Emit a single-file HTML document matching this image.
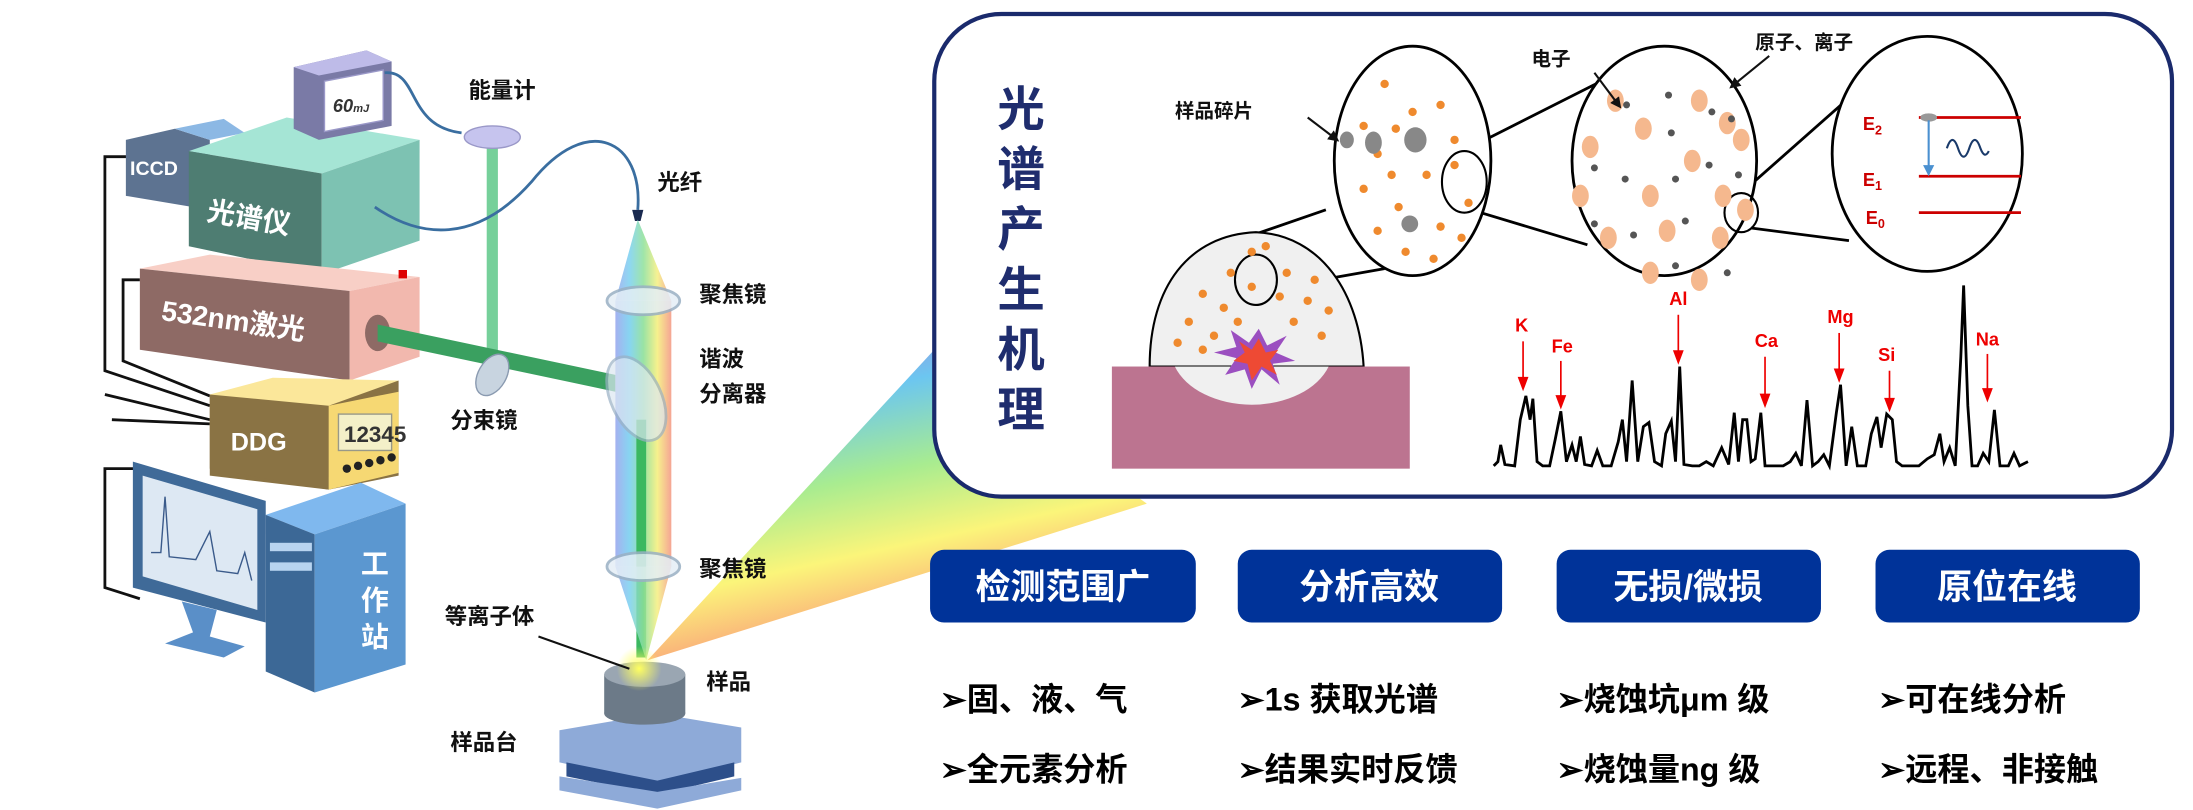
<!DOCTYPE html>
<html><head><meta charset="utf-8"><style>
html,body{margin:0;padding:0;background:#fff;}
svg{display:block}
text{font-family:"Liberation Sans","Noto Sans CJK SC",sans-serif;font-weight:bold}
</style></head><body>
<svg width="2193" height="810" viewBox="0 0 1568 579" preserveAspectRatio="none" xmlns="http://www.w3.org/2000/svg">
<defs>
<linearGradient id="fan" x1="0" y1="0" x2="0.35" y2="1">
<stop offset="0" stop-color="#b07ad8"/><stop offset="0.25" stop-color="#6cc6f0"/><stop offset="0.5" stop-color="#a8ec90"/><stop offset="0.72" stop-color="#fbf57a"/><stop offset="1" stop-color="#fa8a7a"/></linearGradient>
<linearGradient id="rb" x1="0" y1="0" x2="1" y2="0">
<stop offset="0" stop-color="#9aa8ee"/><stop offset="0.25" stop-color="#7ad0f0"/><stop offset="0.5" stop-color="#8ee09a"/><stop offset="0.75" stop-color="#f5ef80"/><stop offset="1" stop-color="#f49a88"/></linearGradient>
<radialGradient id="glow"><stop offset="0" stop-color="#ffff60"/><stop offset="1" stop-color="#ffff60" stop-opacity="0"/></radialGradient>
<marker id="ah" markerWidth="8" markerHeight="8" refX="6" refY="4" orient="auto" markerUnits="userSpaceOnUse"><polygon points="0,0 8,4 0,8" fill="#111"/></marker>
</defs>
<!-- fan -->
<polygon points="463,472 668,250 820,360" fill="url(#fan)"/>
<!-- cables -->
<g fill="none" stroke="#111" stroke-width="2">
<polyline points="92,112 75,112 75,265 150,290"/>
<polyline points="100,200 88,200 88,258 150,283"/>
<polyline points="150,300 75,282"/>
<polyline points="100,335 75,335 75,420 100,428"/>
<polyline points="150,303 80,300"/>
</g>
<!-- ICCD -->
<polygon points="90,100 125,92 150,100 150,150 90,140" fill="#5d7391"/>
<polygon points="125,92 160,85 175,95 150,100" fill="#8cb8e4"/>
<text x="93" y="125" font-size="14" fill="#fff">ICCD</text>
<!-- spectrometer -->
<polygon points="135,108 205,84 300,100 230,124" fill="#a5e5d5"/>
<polygon points="135,108 230,124 230,196 135,176" fill="#4e7d72"/>
<polygon points="230,124 300,100 300,172 230,196" fill="#7dc2b2"/>
<text x="148" y="162" font-size="20" fill="#fff" transform="rotate(10 175 155)">光谱仪</text>
<!-- energy meter -->
<polygon points="210,48 262,36 280,44 280,90 228,100 210,92" fill="#7a7aa6"/>
<polygon points="210,48 262,36 280,44 228,54" fill="#bebbe8"/>
<polygon points="232,58 274,50 274,86 232,94" fill="#fff" stroke="#9a98c8"/>
<text x="238" y="80" font-size="13" font-style="italic" font-weight="normal" fill="#333">60<tspan font-size="8">mJ</tspan></text>
<path d="M275,52 C300,50 290,90 330,95" fill="none" stroke="#3a6ea0" stroke-width="2"/>
<text x="335" y="70" font-size="16" fill="#111">能量计</text>
<!-- green vertical beam -->
<rect x="348" y="102" width="8" height="165" fill="#76d09a"/>
<ellipse cx="352" cy="98" rx="20" ry="8" fill="#c6c4ee" stroke="#9a98c8"/>
<!-- laser -->
<polygon points="100,192 150,182 300,198 250,208" fill="#f8cfc6"/>
<polygon points="100,192 250,208 250,272 100,250" fill="#8e6a65"/>
<polygon points="250,208 300,198 300,255 250,272" fill="#f2b8ae"/>
<rect x="285" y="193" width="6" height="6" fill="#d00"/>
<text x="115" y="235" font-size="20" fill="#fff" transform="rotate(8 160 230)">532nm激光</text>
<ellipse cx="270" cy="238" rx="9" ry="13" fill="#8e6a65"/>
<!-- green horizontal -->
<polygon points="270,232 440,268 440,280 270,244" fill="#3aa060"/>
<ellipse cx="352" cy="268" rx="10" ry="16" fill="#c8d4e0" stroke="#8a9ab0" transform="rotate(30 352 268)"/>
<text x="322" y="306" font-size="16" fill="#111">分束镜</text>
<!-- DDG -->
<polygon points="150,282 235,278 285,272 285,340 235,350 150,340" fill="#8a7344"/>
<polygon points="150,282 235,290 235,350 150,335" fill="#8a7344"/>
<polygon points="235,290 285,280 285,338 235,350" fill="#f6d873"/>
<polygon points="150,282 195,270 285,272 235,290" fill="#fbe79a"/>
<text x="165" y="322" font-size="18" fill="#fff">DDG</text>
<rect x="242" y="296" width="38" height="26" fill="#f4f0c8" stroke="#998"/>
<text x="246" y="316" font-size="16" font-weight="normal" fill="#333">12345</text>
<g fill="#222"><circle cx="248" cy="335" r="3"/><circle cx="256" cy="333" r="3"/><circle cx="264" cy="331" r="3"/><circle cx="272" cy="329" r="3"/><circle cx="280" cy="327" r="3"/></g>
<!-- monitor -->
<polygon points="95,330 190,358 190,445 95,420" fill="#3f6a98"/>
<polygon points="102,340 184,364 184,436 102,412" fill="#dde8f3"/>
<polyline points="108,395 115,395 118,355 121,398 140,400 150,380 155,408 170,410 175,395 180,415" fill="none" stroke="#3a5a8a" stroke-width="1"/>
<polygon points="130,430 155,436 150,455 175,462 160,470 118,460 138,452" fill="#5a8fc8"/>
<!-- tower -->
<polygon points="190,368 258,345 290,360 225,382" fill="#7fb8ee"/>
<polygon points="190,368 225,382 225,495 190,480" fill="#3c6896"/>
<polygon points="225,382 290,360 290,475 225,495" fill="#5b97d0"/>
<rect x="193" y="388" width="30" height="6" fill="#b8d4f0"/><rect x="193" y="402" width="30" height="6" fill="#b8d4f0"/>
<text x="268" y="410" font-size="20" fill="#fff" text-anchor="middle">工</text>
<text x="268" y="436" font-size="20" fill="#fff" text-anchor="middle">作</text>
<text x="268" y="462" font-size="20" fill="#fff" text-anchor="middle">站</text>
<!-- fiber -->
<path d="M268,148 C300,170 340,175 380,130 C420,80 460,100 456,150" fill="none" stroke="#3a6ea0" stroke-width="2"/>
<path d="M452,150 L460,150 L458,158 L454,158Z" fill="#1a2a50"/>
<text x="470" y="136" font-size="16" fill="#111">光纤</text>
<!-- rainbow column -->
<polygon points="456,157 440,215 480,215" fill="url(#rb)" opacity="0.85"/>
<rect x="440" y="215" width="40" height="190" fill="url(#rb)" opacity="0.9"/>
<rect x="455" y="300" width="7" height="170" fill="#3bb860"/>
<polygon points="440,405 480,405 462,472" fill="url(#rb)" opacity="0.85"/>
<ellipse cx="460" cy="215" rx="26" ry="10" fill="#e4eef6" stroke="#9ab0c4" stroke-width="2" opacity="0.85"/>
<ellipse cx="455" cy="285" rx="18" ry="32" fill="#dce8f2" stroke="#9ab0c4" stroke-width="2" opacity="0.7" transform="rotate(-25 455 285)"/>
<ellipse cx="460" cy="405" rx="26" ry="10" fill="#e4eef6" stroke="#9ab0c4" stroke-width="2" opacity="0.85"/>
<text x="500" y="216" font-size="16" fill="#111">聚焦镜</text>
<text x="500" y="262" font-size="16" fill="#111">谐波</text>
<text x="500" y="287" font-size="16" fill="#111">分离器</text>
<text x="500" y="412" font-size="16" fill="#111">聚焦镜</text>
<!-- stage & sample -->
<polygon points="400,522 470,510 530,520 530,545 470,560 400,545" fill="#8eaad8"/>
<polygon points="405,545 470,558 525,545 525,555 470,568 405,555" fill="#2d4f8a"/>
<polygon points="400,555 470,566 530,556 530,565 470,578 400,565" fill="#8eaad8"/>
<rect x="432" y="482" width="58" height="28" fill="#6c7a88"/>
<ellipse cx="461" cy="510" rx="29" ry="8" fill="#6c7a88"/>
<ellipse cx="461" cy="482" rx="29" ry="9" fill="#9aa6b2"/>
<circle cx="457" cy="478" r="16" fill="url(#glow)"/>
<line x1="385" y1="455" x2="450" y2="478" stroke="#111" stroke-width="1.5"/>
<text x="318" y="446" font-size="16" fill="#111">等离子体</text>
<text x="505" y="493" font-size="16" fill="#111">样品</text>
<text x="322" y="536" font-size="16" fill="#111">样品台</text>

<!-- right box -->
<rect x="668" y="10" width="885" height="345" rx="48" fill="#fff" stroke="#1a2a6c" stroke-width="3"/>
<g font-size="34" fill="#1f2d6e" text-anchor="middle">
<text x="730" y="90">光</text><text x="730" y="133">谱</text><text x="730" y="176">产</text><text x="730" y="219">生</text><text x="730" y="262">机</text><text x="730" y="305">理</text>
</g>
<!-- connectors -->
<g stroke="#000" stroke-width="2">
<line x1="890" y1="170" x2="948" y2="150"/>
<line x1="945" y1="200" x2="990" y2="192"/>
<line x1="1042" y1="110" x2="1145" y2="58"/>
<line x1="1052" y1="150" x2="1135" y2="175"/>
<line x1="1245" y1="138" x2="1322" y2="70"/>
<line x1="1252" y1="163" x2="1322" y2="172"/>
</g>
<!-- dome -->
<path d="M822,262 C822,205 850,168 898,166 C945,168 972,210 975,262 Z" fill="#f0f0f0" stroke="#000" stroke-width="1.5"/>
<rect x="795" y="262" width="213" height="73" fill="#bc7490"/>
<path d="M840,262 A58,40 0 0 0 950,262 Z" fill="#f0f0f0"/>
<polygon points="900,235 906,247 920,240 912,252 926,258 910,260 915,275 902,264 895,278 890,264 876,268 884,256 868,252 884,248 880,236 893,245" fill="#9b4fc0"/>
<polygon points="900,242 905,252 914,250 908,258 913,268 902,262 895,272 892,260 882,258 890,252 886,244 895,250" fill="#ee4a34"/>
<ellipse cx="898" cy="200" rx="15" ry="18" fill="none" stroke="#000" stroke-width="1.5"/>
<!-- circle1 -->
<ellipse cx="1010" cy="115" rx="56" ry="82" fill="#fff" stroke="#000" stroke-width="2"/>
<ellipse cx="1047" cy="130" rx="16" ry="22" fill="none" stroke="#000" stroke-width="1.5"/>
<!-- circle2 -->
<ellipse cx="1190" cy="115" rx="66" ry="82" fill="#fff" stroke="#000" stroke-width="2"/>
<ellipse cx="1245" cy="152" rx="12" ry="14" fill="none" stroke="#000" stroke-width="1.5"/>
<!-- circle3 -->
<ellipse cx="1378" cy="110" rx="68" ry="84" fill="#fff" stroke="#000" stroke-width="2"/>
<g stroke="#c00" stroke-width="2"><line x1="1372" y1="84" x2="1445" y2="84"/><line x1="1372" y1="126" x2="1445" y2="126"/><line x1="1372" y1="152" x2="1445" y2="152"/></g>
<ellipse cx="1379" cy="84" rx="6" ry="3" fill="#999"/>
<line x1="1379" y1="86" x2="1379" y2="122" stroke="#4a90d0" stroke-width="1.5"/>
<polygon points="1375,118 1383,118 1379,126" fill="#4a90d0"/>
<path d="M1392,106 q4,-12 8,0 q4,12 8,0 q4,-12 8,0 q3,8 6,2" fill="none" stroke="#1a3a6a" stroke-width="1.5"/>
<g font-size="13" fill="#c00"><text x="1332" y="93">E<tspan font-size="9" dy="3">2</tspan></text><text x="1332" y="133">E<tspan font-size="9" dy="3">1</tspan></text><text x="1334" y="160">E<tspan font-size="9" dy="3">0</tspan></text></g>
<!-- dots -->
<g fill="#ef8a2e">
<circle cx="998" cy="92" r="3"/><circle cx="1010" cy="80" r="3"/><circle cx="985" cy="110" r="3"/><circle cx="1020" cy="125" r="3"/><circle cx="975" cy="135" r="3"/><circle cx="1000" cy="148" r="3"/><circle cx="985" cy="165" r="3"/><circle cx="1030" cy="162" r="3"/><circle cx="1040" cy="100" r="3"/><circle cx="975" cy="90" r="3"/><circle cx="1050" cy="145" r="3"/><circle cx="1040" cy="118" r="3"/><circle cx="1005" cy="180" r="3"/><circle cx="1025" cy="185" r="3"/><circle cx="1012" cy="100" r="3"/><circle cx="995" cy="125" r="3"/><circle cx="1030" cy="75" r="3"/><circle cx="990" cy="60" r="3"/><circle cx="1045" cy="170" r="3"/>
<circle cx="860" cy="210" r="3"/><circle cx="880" cy="195" r="3"/><circle cx="920" cy="195" r="3"/><circle cx="850" cy="230" r="3"/><circle cx="875" cy="220" r="3"/><circle cx="935" cy="215" r="3"/><circle cx="945" cy="240" r="3"/><circle cx="860" cy="250" r="3"/><circle cx="895" cy="180" r="3"/><circle cx="925" cy="230" r="3"/><circle cx="868" cy="240" r="3"/><circle cx="940" cy="200" r="3"/><circle cx="885" cy="230" r="3"/><circle cx="905" cy="176" r="3"/><circle cx="915" cy="212" r="3"/><circle cx="895" cy="205" r="3"/><circle cx="950" cy="222" r="3"/><circle cx="842" cy="245" r="3"/>
</g>
<g fill="#888"><ellipse cx="963" cy="100" rx="5" ry="6"/><ellipse cx="982" cy="102" rx="6" ry="8"/><ellipse cx="1012" cy="100" rx="8" ry="9"/><ellipse cx="1008" cy="160" rx="6" ry="6"/></g>
<g fill="#f5b88e">
<ellipse cx="1155" cy="72" rx="6" ry="8"/><ellipse cx="1215" cy="72" rx="6" ry="8"/><ellipse cx="1175" cy="92" rx="6" ry="8"/><ellipse cx="1245" cy="100" rx="6" ry="8"/><ellipse cx="1137" cy="105" rx="6" ry="8"/><ellipse cx="1210" cy="115" rx="6" ry="8"/><ellipse cx="1130" cy="140" rx="6" ry="8"/><ellipse cx="1180" cy="140" rx="6" ry="8"/><ellipse cx="1232" cy="140" rx="6" ry="8"/><ellipse cx="1150" cy="170" rx="6" ry="8"/><ellipse cx="1192" cy="165" rx="6" ry="8"/><ellipse cx="1230" cy="170" rx="6" ry="8"/><ellipse cx="1180" cy="195" rx="6" ry="8"/><ellipse cx="1215" cy="200" rx="6" ry="8"/><ellipse cx="1235" cy="88" rx="6" ry="8"/><ellipse cx="1248" cy="150" rx="6" ry="8"/>
</g>
<g fill="#555"><circle cx="1163" cy="75" r="2.5"/><circle cx="1193" cy="68" r="2.5"/><circle cx="1224" cy="80" r="2.5"/><circle cx="1238" cy="85" r="2.5"/><circle cx="1195" cy="95" r="2.5"/><circle cx="1140" cy="120" r="2.5"/><circle cx="1162" cy="128" r="2.5"/><circle cx="1198" cy="128" r="2.5"/><circle cx="1222" cy="118" r="2.5"/><circle cx="1243" cy="125" r="2.5"/><circle cx="1140" cy="160" r="2.5"/><circle cx="1168" cy="168" r="2.5"/><circle cx="1205" cy="158" r="2.5"/><circle cx="1198" cy="190" r="2.5"/><circle cx="1235" cy="195" r="2.5"/></g>
<!-- labels -->
<g font-size="14" fill="#111"><text x="840" y="84">样品碎片</text><text x="1095" y="47">电子</text><text x="1255" y="35">原子、离子</text></g>
<g stroke="#111" stroke-width="1.5" marker-end="url(#ah)"><line x1="935" y1="84" x2="956" y2="100"/><line x1="1140" y1="52" x2="1158" y2="76"/><line x1="1265" y1="40" x2="1238" y2="62"/></g>
<!-- spectrum -->
<polyline fill="none" stroke="#000" stroke-width="2" points="1068,333 1071,330 1073,318 1076,332 1083,333 1087,300 1091,283 1094,300 1096,285 1099,330 1103,333 1108,333 1112,314 1116,294 1120,330 1124,318 1127,330 1130,312 1133,332 1138,333 1142,322 1146,333 1152,333 1157,316 1160,300 1163,330 1167,272 1171,330 1175,305 1179,302 1183,330 1188,333 1191,310 1195,301 1198,330 1201,262 1204,332 1210,333 1215,333 1220,330 1225,333 1231,320 1236,332 1240,295 1243,330 1246,300 1249,300 1252,330 1255,328 1259,295 1262,333 1268,333 1275,333 1280,330 1284,324 1288,333 1292,286 1296,333 1300,330 1304,325 1308,333 1313,295 1316,275 1320,333 1324,305 1328,333 1334,333 1338,310 1342,298 1345,320 1349,296 1353,300 1356,330 1360,333 1366,333 1372,333 1378,328 1383,325 1387,310 1390,330 1394,320 1398,333 1402,255 1404,204 1407,290 1410,333 1414,333 1418,324 1422,330 1426,293 1430,333 1436,333 1440,324 1444,333 1450,330"/>
<g font-size="13" fill="#e00" text-anchor="middle"><text x="1088" y="237">K</text><text x="1117" y="252">Fe</text><text x="1200" y="218">Al</text><text x="1263" y="248">Ca</text><text x="1316" y="231">Mg</text><text x="1349" y="258">Si</text><text x="1421" y="247">Na</text></g>
<g stroke="#e00" stroke-width="1.2" fill="#e00">
<line x1="1089" y1="244" x2="1089" y2="272"/><polygon points="1086,270 1092,270 1089,278"/>
<line x1="1116" y1="258" x2="1116" y2="285"/><polygon points="1113,283 1119,283 1116,291"/>
<line x1="1200" y1="225" x2="1200" y2="253"/><polygon points="1197,251 1203,251 1200,259"/>
<line x1="1262" y1="255" x2="1262" y2="284"/><polygon points="1259,282 1265,282 1262,290"/>
<line x1="1315" y1="238" x2="1315" y2="266"/><polygon points="1312,264 1318,264 1315,272"/>
<line x1="1351" y1="265" x2="1351" y2="287"/><polygon points="1348,285 1354,285 1351,293"/>
<line x1="1421" y1="253" x2="1421" y2="280"/><polygon points="1418,278 1424,278 1421,286"/>
</g>
<!-- buttons -->
<g fill="#003399">
<rect x="665" y="393" width="190" height="52" rx="10"/><rect x="885" y="393" width="189" height="52" rx="10"/><rect x="1113" y="393" width="189" height="52" rx="10"/><rect x="1341" y="393" width="189" height="52" rx="10"/>
</g>
<g font-size="25" fill="#fff" text-anchor="middle"><text x="760" y="428">检测范围广</text><text x="979" y="428">分析高效</text><text x="1207" y="428">无损/微损</text><text x="1435" y="428">原位在线</text></g>
<g font-size="23" fill="#000">
<text x="672" y="508">➢固、液、气</text><text x="885" y="508">➢1s 获取光谱</text><text x="1113" y="508">➢烧蚀坑μm 级</text><text x="1343" y="508">➢可在线分析</text>
<text x="672" y="558">➢全元素分析</text><text x="885" y="558">➢结果实时反馈</text><text x="1113" y="558">➢烧蚀量ng 级</text><text x="1343" y="558">➢远程、非接触</text>
</g>
</svg>
</body></html>
